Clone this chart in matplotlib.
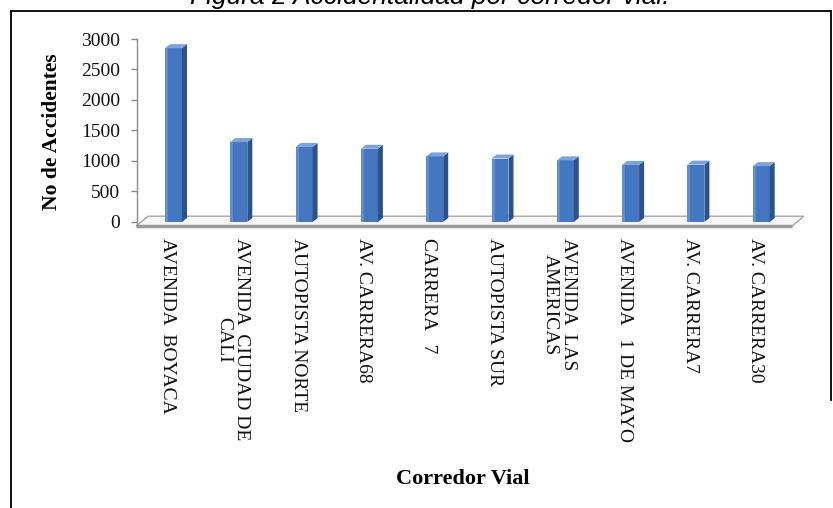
import matplotlib
matplotlib.use('Agg')
import matplotlib.pyplot as plt
import numpy as np
from matplotlib.patches import Polygon
from matplotlib.lines import Line2D

corredores = ['AVENIDA  BOYACA', 'AVENIDA  CIUDAD DE\nCALI', 'AUTOPISTA NORTE',
              'AV. CARRERA68', 'CARRERA   7', 'AUTOPISTA SUR',
              'AVENIDA  LAS\nAMERICAS', 'AVENIDA   1 DE MAYO', 'AV. CARRERA7',
              'AV. CARRERA30']
accidentes = [2850, 1310, 1230, 1200, 1075, 1040, 1010, 935, 940, 915]
y_ticks = [0, 500, 1000, 1500, 2000, 2500, 3000]

W, H, DPI = 833, 508, 100
FRONT = '#4577c0'
LIGHT = '#5d8ed2'
SIDE = '#2d5189'
TOP = '#7ba4dc'

plt.rcParams['font.family'] = ['Liberation Serif', 'DejaVu Serif']

fig = plt.figure(figsize=(W / DPI, H / DPI), dpi=DPI)
ax = fig.add_axes([137 / W, (H - 225) / H, 663 / W, 186 / H])
x = np.arange(len(accidentes))
ax.set_xlim(-0.559, 9.594)
ax.set_ylim(-50, 3000)


def px2data(dx, dy):
    # pixel offset -> data offset
    inv = ax.transData.inverted()
    p0 = inv.transform((0, 0))
    p1 = inv.transform((dx, dy))
    return p1 - p0


# floor of the 3D chart
ddx, ddy = px2data(12, 10)
fx0, fx1, fy = x[0] - 0.575, x[-1] + 0.47, -70
floor = Polygon([(fx0, fy), (fx1, fy), (fx1 + ddx, fy + ddy), (fx0 + ddx, fy + ddy)],
                closed=True, facecolor='#f6f6f6', edgecolor='#a8a8a8', lw=1,
                clip_on=False, zorder=1)
ax.add_patch(floor)
ax.plot([fx0, fx1], [fy, fy], color='#9a9a9a', lw=2.5, clip_on=False, zorder=1,
        solid_capstyle='butt')

# bars: front face + side + top
bw = 0.26
sdx, sdy = px2data(5, 4)
hl = px2data(3, 0)[0]
ax.bar(x, accidentes, width=bw, color=FRONT, zorder=3)
ax.bar(x - bw / 2 + hl / 2, accidentes, width=hl, color=LIGHT, zorder=3)
for xi, v in zip(x, accidentes):
    r = xi + bw / 2
    l = xi - bw / 2
    ax.add_patch(Polygon([(r, 0), (r, v), (r + sdx, v + sdy), (r + sdx, sdy)],
                         closed=True, facecolor=SIDE, edgecolor='none', zorder=3))
    ax.add_patch(Polygon([(l, v), (r, v), (r + sdx, v + sdy), (l + sdx, v + sdy)],
                         closed=True, facecolor=TOP, edgecolor='none', zorder=3))

# axes styling
for s in ['top', 'right', 'bottom']:
    ax.spines[s].set_visible(False)
ax.spines['left'].set_color('#8a8a8a')
ax.spines['left'].set_linewidth(1)
ax.set_yticks(y_ticks, [str(t) for t in y_ticks])
ax.tick_params(axis='y', length=4, width=1, color='#8a8a8a', pad=8,
               labelsize=14, labelcolor='#111111')
ax.set_xticks(x - 0.09, corredores, rotation=-90, va='top', ha='center',
              multialignment='center', linespacing=1.05)
ax.tick_params(axis='x', length=0, pad=9.5, labelsize=14, labelcolor='#111111')
ax.set_facecolor('none')

ax.set_ylabel('No de Accidentes', fontsize=15.5, fontweight='bold')
ax.yaxis.set_label_coords(-0.113, 0.5)
ax.set_xlabel('Corredor Vial', fontsize=16, fontweight='bold')
ax.xaxis.label.set_va('center')
ax.xaxis.set_label_coords(0.4917, -1.366)

# caption, cut at the top edge as in the scanned page
fig.text(430 / W, 1 - 4 / H, 'Figura 2 Accidentalidad por corredor vial.',
         ha='center', va='baseline', fontsize=19, style='italic',
         family=['Liberation Sans', 'DejaVu Sans'])

# frame around the chart
fy_top = 1 - 11 / H
fig.add_artist(Line2D([11 / W, 11 / W], [0, fy_top], transform=fig.transFigure,
                      color='black', lw=1.3))
fig.add_artist(Line2D([11 / W, 831 / W], [fy_top, fy_top], transform=fig.transFigure,
                      color='black', lw=1.3))
fig.add_artist(Line2D([831 / W, 831 / W], [1 - 400 / H, fy_top], transform=fig.transFigure,
                      color='black', lw=1.3))

fig.savefig('out.png', dpi=DPI)
